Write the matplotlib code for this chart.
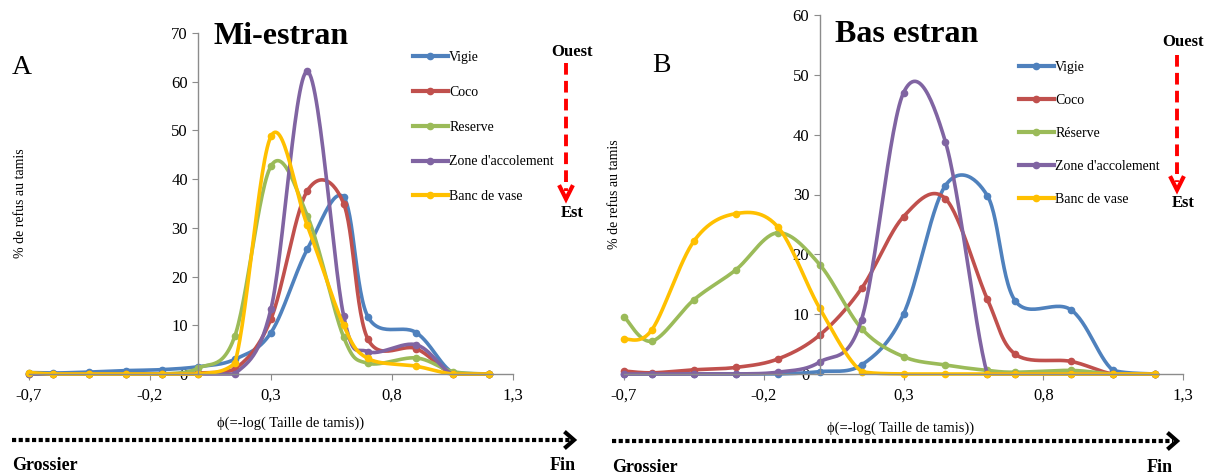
import numpy as np
import matplotlib
matplotlib.use("Agg")
import matplotlib.pyplot as plt
from matplotlib.lines import Line2D

W, H = 1212, 475

# phi = -log10(sieve size, mm)
phi = [-0.70, -0.60, -0.45, -0.30, -0.15, 0.0, 0.15, 0.30, 0.45, 0.60, 0.70, 0.90, 1.05, 1.20]

names_a = ["Vigie", "Coco", "Reserve", "Zone d'accolement", "Banc de vase"]
names_b = ["Vigie", "Coco", "Réserve", "Zone d'accolement", "Banc de vase"]
colors = ["#4F81BD", "#C0504D", "#9BBB59", "#8064A2", "#FFC000"]

# A: Mi-estran
vigie_a = [0.3, 0.2, 0.4, 0.7, 0.9, 1.5, 3.0, 8.5, 25.6, 36.3, 11.8, 8.5, 0.3, 0.0]
coco_a = [0.0, 0.0, 0.0, 0.0, 0.0, 0.2, 1.0, 11.3, 37.6, 35.0, 7.2, 5.2, 0.0, 0.0]
reserve_a = [0.0, 0.0, 0.0, 0.0, 0.0, 1.2, 7.7, 42.7, 32.5, 7.6, 2.2, 3.3, 0.5, 0.0]
zone_a = [0.0, 0.0, 0.0, 0.0, 0.0, 0.0, 0.0, 13.4, 62.1, 12.0, 4.6, 6.0, 0.0, 0.0]
banc_a = [0.3, 0.0, 0.0, 0.0, 0.0, 0.0, 2.2, 48.8, 30.5, 10.0, 3.2, 1.6, 0.0, 0.0]

# B: Bas estran
vigie_b = [0.0, 0.0, 0.0, 0.0, 0.0, 0.4, 1.5, 10.0, 31.5, 29.8, 12.2, 10.7, 0.6, 0.0]
coco_b = [0.5, 0.2, 0.7, 1.1, 2.5, 6.5, 14.3, 26.3, 29.3, 12.5, 3.3, 2.1, 0.0, 0.0]
reserve_b = [9.6, 5.5, 12.4, 17.4, 23.6, 18.3, 7.6, 2.9, 1.5, 0.6, 0.3, 0.6, 0.0, 0.0]
zone_b = [0.0, 0.0, 0.0, 0.0, 0.3, 2.0, 9.1, 47.0, 38.8, 0.0, 0.0, 0.0, 0.0, 0.0]
banc_b = [5.8, 7.4, 22.2, 26.8, 24.6, 11.0, 0.4, 0.0, 0.0, 0.0, 0.0, 0.0, 0.0, 0.0]

xticks = [-0.7, -0.2, 0.3, 0.8, 1.3]
xticklabels = ["-0,7", "-0,2", "0,3", "0,8", "1,3"]

SERIF = ["Liberation Serif", "DejaVu Serif"]
plt.rcParams["font.family"] = SERIF


def fx(px):
    return px / W


def fy(py):
    return 1 - py / H


def smooth(x, y, n=30):
    """Excel-style smoothed line: cubic Bezier through every point.
    Control points are kept >= 0 so the curve never dips under the axis."""
    p = np.column_stack([x, y]).astype(float)
    pts = np.vstack([p[0], p, p[-1]])
    t = np.linspace(0, 1, n)[:, None]
    out = []
    for i in range(1, len(pts) - 2):
        p0, p1, p2, p3 = pts[i - 1], pts[i], pts[i + 1], pts[i + 2]
        c1 = p1 + (p2 - p0) / 6
        c2 = p2 - (p3 - p1) / 6
        c1[1] = max(c1[1], 0)
        c2[1] = max(c2[1], 0)
        seg = ((1 - t) ** 3) * p1 + 3 * ((1 - t) ** 2) * t * c1 + 3 * (1 - t) * t ** 2 * c2 + t ** 3 * p2
        out.append(seg)
    out = np.vstack(out)
    return out[:, 0], out[:, 1]


def draw_panel(ax, series, names, ymax, ystep):
    for vals, name, c in zip(series, names, colors):
        sx, sy = smooth(phi, vals)
        ax.plot(sx, sy, color=c, lw=2.6, clip_on=False, solid_capstyle="round")
        ax.plot(phi, vals, "o", color=c, ms=4.5, clip_on=False)
        ax.plot([], [], "-o", color=c, lw=3, ms=4.5, label=name)
    ax.set_xlim(-0.7, 1.3)
    ax.set_ylim(0, ymax)
    ax.set_xticks(xticks)
    ax.set_xticklabels(xticklabels)
    ax.set_yticks(np.arange(0, ymax + 1, ystep))
    for s in ("top", "right"):
        ax.spines[s].set_visible(False)
    ax.spines["left"].set_position(("data", 0))
    for s in ("left", "bottom"):
        ax.spines[s].set_color("#8c8c8c")
        ax.spines[s].set_linewidth(1.0)
    ax.tick_params(colors="#8c8c8c", labelcolor="black", labelsize=12, length=4, direction="out")
    ax.tick_params(axis="x", pad=6)
    ax.set_facecolor("none")


fig = plt.figure(figsize=(W / 100, H / 100), dpi=100)

# panel A
axa = fig.add_axes([fx(29), fy(374), fx(513) - fx(29), fy(33) - fy(374)])
draw_panel(axa, [vigie_a, coco_a, reserve_a, zone_a, banc_a], names_a, 70, 10)
axa.set_ylabel("% de refus au tamis", fontsize=10)
axa.yaxis.set_label_coords(-0.004, 0.5)
axa.set_xlabel("ϕ(=-log( Taille de tamis))", fontsize=10.5)
axa.xaxis.set_label_coords(0.54, -0.126)
axa.text(0.52, 0.99, "Mi-estran", transform=axa.transAxes, ha="center", va="center",
         fontsize=23, fontweight="bold")
axa.legend(loc="upper left", bbox_to_anchor=(fx(413), fy(51)), bbox_transform=fig.transFigure,
           frameon=False, fontsize=10, handlelength=2.5, handletextpad=0.1, labelspacing=1.57,
           borderpad=0, borderaxespad=0)

# panel B
axb = fig.add_axes([fx(624), fy(374), fx(1183) - fx(624), fy(15) - fy(374)])
draw_panel(axb, [vigie_b, coco_b, reserve_b, zone_b, banc_b], names_b, 60, 10)
axb.set_ylabel("% de refus au tamis", fontsize=10)
axb.yaxis.set_label_coords(-0.006, 0.5)
axb.set_xlabel("ϕ(=-log( Taille de tamis))", fontsize=10.5)
axb.xaxis.set_label_coords(0.494, -0.131)
axb.text(0.505, 0.945, "Bas estran", transform=axb.transAxes, ha="center", va="center",
         fontsize=23, fontweight="bold")
axb.legend(loc="upper left", bbox_to_anchor=(fx(1019), fy(61)), bbox_transform=fig.transFigure,
           frameon=False, fontsize=10, handlelength=2.5, handletextpad=0.1, labelspacing=1.44,
           borderpad=0, borderaxespad=0)

# panel letters
fig.text(fx(22), fy(68), "A", fontsize=20, ha="center", va="center")
fig.text(fx(661), fy(65), "B", fontsize=20, ha="center", va="center")


def ouest_est(x, y_top, y_tip, y_ouest, y_est):
    fig.text(fx(x + 6), fy(y_ouest), "Ouest", fontsize=12, fontweight="bold", ha="center", va="center")
    fig.add_artist(Line2D([fx(x), fx(x)], [fy(y_top), fy(y_tip - 8)], transform=fig.transFigure,
                          color="red", lw=2.8, ls=(0, (3, 1.6))))
    fig.add_artist(Line2D([fx(x - 6), fx(x), fx(x + 6)], [fy(y_tip - 12), fy(y_tip), fy(y_tip - 12)],
                          transform=fig.transFigure, color="red", lw=3, solid_joinstyle="miter"))
    fig.text(fx(x + 6), fy(y_est), "Est", fontsize=12, fontweight="bold", ha="center", va="center")


ouest_est(566, 63, 199, 52, 213)
ouest_est(1177, 55, 190, 42, 203)


def grain_arrow(x0, x1, y, fin_x):
    fig.add_artist(Line2D([fx(x0), fx(x1 - 4)], [fy(y), fy(y)], transform=fig.transFigure,
                          color="black", lw=3, ls=(0, (1, 0.6))))
    fig.add_artist(Line2D([fx(x1 - 8), fx(x1), fx(x1 - 8)], [fy(y - 7), fy(y), fy(y + 7)],
                          transform=fig.transFigure, color="black", lw=3, solid_joinstyle="miter"))
    fig.text(fx(x0), fy(y + 26), "Grossier", fontsize=13, fontweight="bold", ha="left", va="center")
    fig.text(fx(fin_x), fy(y + 26), "Fin", fontsize=13, fontweight="bold", ha="center", va="center")


grain_arrow(12, 574, 440, 563)
grain_arrow(612, 1177, 441, 1160)

fig.savefig("out.png", dpi=100)
